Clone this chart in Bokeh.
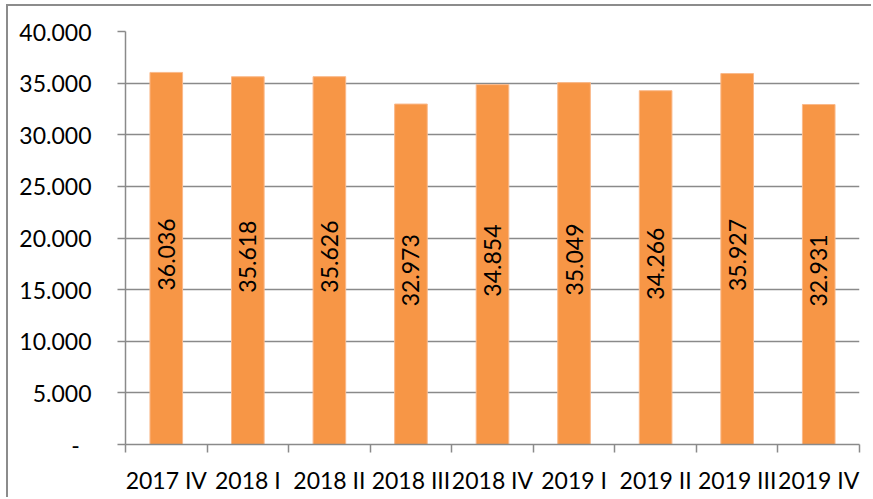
from bokeh.plotting import figure
from bokeh.models import ColumnDataSource, Range1d, FixedTicker
from bokeh.core.properties import value
from bokeh.embed import file_html
from bokeh.resources import INLINE
import math

categories = ["2017 IV", "2018 I", "2018 II", "2018 III", "2018 IV",
              "2019 I", "2019 II", "2019 III", "2019 IV"]
values = [36036, 35618, 35626, 32973, 34854, 35049, 34266, 35927, 32931]
y_ticks = [0, 5000, 10000, 15000, 20000, 25000, 30000, 35000, 40000]
y_tick_labels = ["-\u00a0\u00a0", "5.000", "10.000", "15.000", "20.000",
                 "25.000", "30.000", "35.000", "40.000"]

FONT = "Lato"
FS = "23px"
GRID = "#8a8a8a"

xs = list(range(len(categories)))
src = ColumnDataSource(dict(
    x=xs,
    top=values,
    mid=[v / 2 for v in values],
    label=[f"{v:,}".replace(",", ".") for v in values],
))

p = figure(width=865, height=493, output_backend="svg", toolbar_location=None,
           x_range=Range1d(-0.5, len(categories) - 0.5),
           y_range=Range1d(0, 40000),
           min_border_left=117, min_border_right=14,
           min_border_top=25, min_border_bottom=55)
p.outline_line_color = None
p.background_fill_color = "white"
p.border_fill_color = "white"
p.styles = {"margin-left": "6px", "margin-top": "4px",
            "border-top": "2px solid #8c8c8c", "border-left": "2px solid #8c8c8c"}

p.vbar(x="x", top="top", bottom=0, width=0.4, source=src,
       fill_color="#F79646", line_color="#FAB98A", line_width=1)

p.text(x="x", y="mid", text="label", source=src, angle=math.pi / 2,
       text_align="center", text_baseline="middle", y_offset=-4,
       text_font=value(FONT), text_font_size=FS, text_color="#000000")

# x axis
p.xaxis.ticker = FixedTicker(ticks=xs, minor_ticks=[i - 0.5 for i in range(len(categories) + 1)])
p.xaxis.major_label_overrides = {i: c for i, c in enumerate(categories)}
p.xaxis.major_tick_line_color = None
p.xaxis.minor_tick_out = 8
p.xaxis.minor_tick_in = 0
p.xaxis.minor_tick_line_color = GRID
p.xaxis.minor_tick_line_width = 1.5
p.xaxis.axis_line_color = GRID
p.xaxis.axis_line_width = 1.5
p.xaxis.major_label_standoff = 13
p.xaxis.major_label_text_font = FONT
p.xaxis.major_label_text_font_size = FS
p.xaxis.major_label_text_color = "#000000"

# y axis
p.yaxis.ticker = FixedTicker(ticks=y_ticks, minor_ticks=[])
p.yaxis.major_label_overrides = {t: l for t, l in zip(y_ticks, y_tick_labels)}
p.yaxis.major_tick_out = 8
p.yaxis.major_tick_in = 0
p.yaxis.major_tick_line_color = GRID
p.yaxis.major_tick_line_width = 1.5
p.yaxis.minor_tick_line_color = None
p.yaxis.axis_line_color = GRID
p.yaxis.axis_line_width = 1.5
p.yaxis.major_label_standoff = 26
p.yaxis.major_label_text_font = FONT
p.yaxis.major_label_text_font_size = FS
p.yaxis.major_label_text_color = "#000000"

p.xgrid.grid_line_color = None
p.ygrid.ticker = FixedTicker(ticks=y_ticks)
p.ygrid.grid_line_color = GRID
p.ygrid.grid_line_width = 1.5

open("out.html", "w").write(file_html(p, INLINE))
